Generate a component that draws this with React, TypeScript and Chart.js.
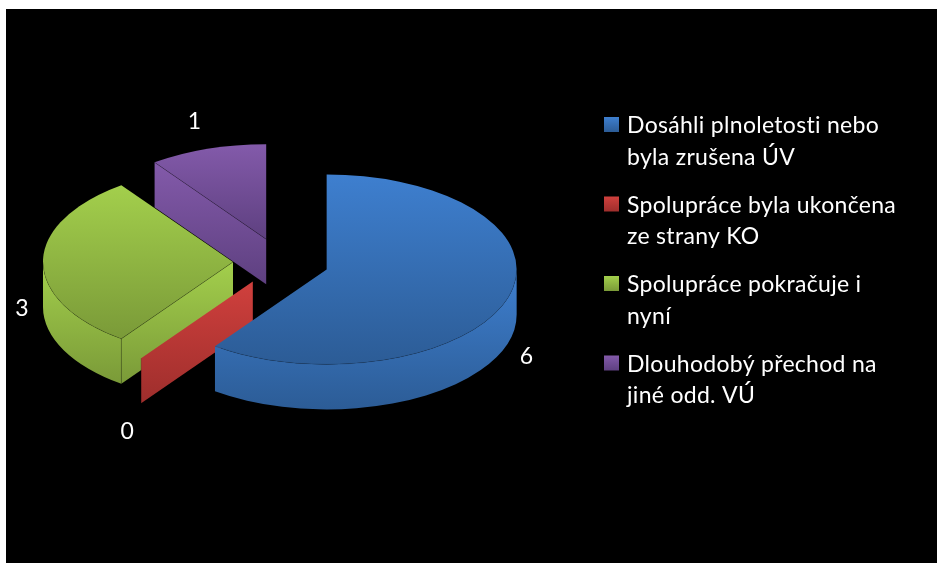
import { useEffect, useRef } from "react";
import { Chart, registerables } from "chart.js";

Chart.register(...registerables);

const categories: string[][] = [
  ["Dosáhli plnoletosti nebo", "byla zrušena ÚV"],
  ["Spolupráce byla ukončena", "ze strany KO"],
  ["Spolupráce pokračuje i", "nyní"],
  ["Dlouhodobý přechod na", "jiné odd. VÚ"],
];
const values: number[] = [6, 0, 3, 1];
const lightColors: string[] = ["#3e7fcf", "#d0403d", "#a3cf4c", "#835aaa"];
const darkColors: string[] = ["#2c5c96", "#9e2e2c", "#7a9a38", "#5e4080"];

const TILT = 0.5;
const DEPTH = 45;
const FONT = "Lato, sans-serif";
const valueLabelShift: [number, number][] = [
  [19, 58],
  [-14, 73],
  [-21, 47],
  [-13, -27],
];

function drawSlice(ctx: CanvasRenderingContext2D, el: any, i: number) {
  const { x, y, startAngle: a, endAngle: b, outerRadius: r } = el;
  const mid = (a + b) / 2;
  const d = (el.options.offset || 0) / 4;
  const cx = x + Math.cos(mid) * d;
  const cy = y + Math.sin(mid) * d * TILT;
  const px = (t: number) => cx + Math.cos(t) * r;
  const py = (t: number) => cy + Math.sin(t) * r * TILT;

  const grad = (y0: number, y1: number) => {
    const g = ctx.createLinearGradient(0, y0, 0, y1);
    g.addColorStop(0, lightColors[i]);
    g.addColorStop(1, darkColors[i]);
    return g;
  };
  const range = (extra: number[]) => {
    const ys = [...extra];
    for (let k = 0; k <= 72; k++) ys.push(py(a + ((b - a) * k) / 72));
    return [Math.min(...ys), Math.max(...ys)];
  };

  // outer rim, only the part that faces the viewer
  const f0 = Math.max(a, 0);
  const f1 = Math.min(b, Math.PI);
  if (f1 > f0) {
    ctx.beginPath();
    ctx.ellipse(cx, cy, r, r * TILT, 0, f0, f1);
    ctx.ellipse(cx, cy + DEPTH, r, r * TILT, 0, f1, f0, true);
    ctx.closePath();
    const ys: number[] = [];
    for (let k = 0; k <= 72; k++) ys.push(py(f0 + ((f1 - f0) * k) / 72));
    ctx.fillStyle = grad(Math.min(...ys), Math.max(...ys) + DEPTH);
    ctx.fill();
  }

  // radial cut walls that face the viewer
  const wall = (t: number) => {
    ctx.beginPath();
    ctx.moveTo(cx, cy);
    ctx.lineTo(px(t), py(t));
    ctx.lineTo(px(t), py(t) + DEPTH);
    ctx.lineTo(cx, cy + DEPTH);
    ctx.closePath();
    const y0 = Math.min(cy, py(t));
    const y1 = Math.max(cy, py(t)) + DEPTH;
    ctx.fillStyle = grad(y0, y1);
    ctx.fill();
    ctx.beginPath();
    ctx.moveTo(px(t), py(t));
    ctx.lineTo(px(t), py(t) + DEPTH);
    ctx.strokeStyle = "rgba(0,0,0,0.18)";
    ctx.lineWidth = 1;
    ctx.stroke();
  };
  if (-Math.cos(a) > 1e-6) wall(a);
  if (Math.cos(b) > 1e-6) wall(b);

  // top face
  if (b > a) {
    const [y0, y1] = range([cy]);
    ctx.beginPath();
    ctx.moveTo(cx, cy);
    ctx.ellipse(cx, cy, r, r * TILT, 0, a, b);
    ctx.closePath();
    ctx.fillStyle = grad(y0, y1);
    ctx.fill();
    // seam between top face and walls
    ctx.strokeStyle = "rgba(0,0,0,0.3)";
    ctx.lineWidth = 0.8;
    if (-Math.cos(a) > 1e-6) {
      ctx.beginPath();
      ctx.moveTo(cx, cy);
      ctx.lineTo(px(a), py(a));
      ctx.stroke();
    }
    if (f1 > f0) {
      ctx.beginPath();
      ctx.ellipse(cx, cy, r, r * TILT, 0, f0, f1);
      ctx.strokeStyle = "rgba(0,0,0,0.14)";
      ctx.stroke();
    }
  }

  return { cx, cy, px, py, mid };
}

const tiltedPie = {
  id: "tiltedPie",
  beforeDraw(chart: any) {
    const ctx = chart.ctx;
    ctx.save();
    ctx.fillStyle = "#000000";
    ctx.fillRect(6, 9, chart.width - 6, chart.height - 9);
    ctx.restore();
  },
  beforeDatasetsDraw(chart: any) {
    const ctx: CanvasRenderingContext2D = chart.ctx;
    const arcs = chart.getDatasetMeta(0).data;
    ctx.save();
    const geo: any[] = [];
    for (let i = arcs.length - 1; i >= 0; i--) {
      geo[i] = drawSlice(ctx, arcs[i], i);
    }

    // value labels
    ctx.fillStyle = "#ffffff";
    ctx.font = `23px ${FONT}`;
    ctx.textAlign = "center";
    ctx.textBaseline = "middle";
    values.forEach((v, i) => {
      const g = geo[i];
      ctx.fillText(
        String(v),
        g.px(g.mid) + valueLabelShift[i][0],
        g.py(g.mid) + valueLabelShift[i][1],
      );
    });

    // legend
    ctx.textAlign = "left";
    ctx.textBaseline = "alphabetic";
    ctx.font = `23px ${FONT}`;
    (ctx as any).letterSpacing = "0.3px";
    const rows = chart.data.labels as string[][];
    const firstBaseline = 133;
    const rowStep = 79.5;
    const lineStep = 31.5;
    rows.forEach((lines, i) => {
      const base = firstBaseline + rowStep * i;
      const g = ctx.createLinearGradient(0, base - 16, 0, base - 1);
      g.addColorStop(0, lightColors[i]);
      g.addColorStop(1, darkColors[i]);
      ctx.fillStyle = g;
      ctx.fillRect(604, base - 16, 15, 15);
      ctx.fillStyle = "#ffffff";
      lines.forEach((line, k) => ctx.fillText(line, 627, base + lineStep * k));
    });
    ctx.restore();
    return false;
  },
};

export default function App() {
  const ref = useRef<HTMLCanvasElement | null>(null);
  useEffect(() => {
    document.body.style.margin = "0";
    const chart = new Chart(ref.current!, {
      type: "pie",
      data: {
        labels: categories as any,
        datasets: [
          {
            data: values,
            backgroundColor: lightColors,
            borderWidth: 0,
            offset: 192,
            hoverOffset: 192,
          } as any,
        ],
      },
      options: {
        responsive: false,
        animation: false,
        events: [],
        radius: 190,
        layout: { padding: { left: 0, right: 375, top: 0, bottom: 39 } },
        plugins: { legend: { display: false }, tooltip: { enabled: false } },
      } as any,
      plugins: [tiltedPie as any],
    });
    return () => chart.destroy();
  }, []);
  return (
    <div style={{ position: "absolute", left: 0, top: 0, width: 937, height: 563, overflow: "hidden" }}>
      <canvas ref={ref} width={937} height={563} style={{ display: "block" }} />
    </div>
  );
}
